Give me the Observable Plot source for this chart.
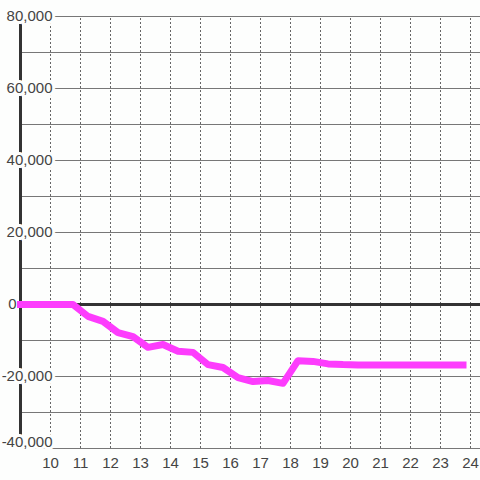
<!DOCTYPE html>
<html><head><meta charset="utf-8">
<script src="https://cdn.jsdelivr.net/npm/d3@7"></script>
<script src="https://cdn.jsdelivr.net/npm/@observablehq/plot@0.6"></script>
<style>
html,body{margin:0;padding:0;background:#fdfefd;}
</style></head><body>
<div id="chart"></div>
<script>
const hours = [9, 10, 10.75, 11.25, 11.75, 12.25, 12.75, 13.25, 13.75, 14.25, 14.75, 15.25, 15.75, 16.25, 16.75, 17.25, 17.75, 18.25, 18.75, 19.25, 19.75, 20.25, 20.75, 21.25, 21.75, 22.25, 22.75, 23.25, 23.75];
const values = [0, 0, 0, -3300, -4700, -7800, -8900, -11900, -11100, -13000, -13300, -16700, -17500, -20300, -21400, -21100, -21900, -15600, -15800, -16500, -16700, -16800, -16800, -16800, -16800, -16800, -16800, -16800, -16800];
const xTicks = [10, 11, 12, 13, 14, 15, 16, 17, 18, 19, 20, 21, 22, 23, 24];
const yTicks = [80000, 60000, 40000, 20000, -20000];
const yZeroTick = [0];
const yBottomTick = [-40000];
const yGrid = [-40000, -30000, -20000, -10000, 10000, 20000, 30000, 40000, 50000, 60000, 70000, 80000];

const data = hours.map((h, i) => ({x: h, y: values[i]}));
const xMin = 9, xMax = 24.333;
const bg = "#fdfefd";
const fmt = d3.formatLocale({decimal: ".", thousands: ",", grouping: [3], currency: ["$", ""], minus: "-"}).format(",");

const chart = Plot.plot({
  width: 480, height: 480,
  marginLeft: 20, marginRight: 0, marginTop: 16, marginBottom: 32,
  style: {background: bg, fontFamily: "'Liberation Sans', Arial, sans-serif"},
  x: {domain: [xMin, xMax], axis: null},
  y: {domain: [-40000, 80000], axis: null},
  marks: [
    Plot.ruleY(yGrid, {x1: xMin, x2: xMax, y: d => d, stroke: "#777", strokeWidth: 1}),
    Plot.ruleX(xTicks, {x: d => d, y1: -40000, y2: 80000, stroke: "#666", strokeWidth: 1, strokeDasharray: "2,2"}),
    Plot.ruleY([0], {x1: xMin, x2: xMax, stroke: "#333", strokeWidth: 3}),
    Plot.ruleX([xMin], {y1: -40000, y2: 80000, stroke: "#333", strokeWidth: 3}),
    Plot.text(yTicks, {x: xMin, y: d => d, text: d => fmt(d), textAnchor: "end", dx: 32, fontSize: 15, fill: "#444", stroke: bg, strokeWidth: 6, paintOrder: "stroke"}),
    Plot.text(yBottomTick, {x: xMin, y: d => d, text: d => fmt(d), textAnchor: "end", dx: 32, dy: -6, fontSize: 15, fill: "#444", stroke: bg, strokeWidth: 6, paintOrder: "stroke"}),
    Plot.text(yZeroTick, {x: xMin, y: d => d, text: d => fmt(d), textAnchor: "end", dx: -4, fontSize: 15, fill: "#444"}),
    Plot.line(data, {x: "x", y: "y", stroke: "#fd3cfd", strokeWidth: 7, strokeLinejoin: "round", strokeLinecap: "square"}),
    Plot.text(xTicks, {x: d => d, y: -40000, text: d => String(d), dy: 15, fontSize: 15, fill: "#444"})
  ]
});
document.getElementById("chart").appendChild(chart);
</script>
</body></html>
